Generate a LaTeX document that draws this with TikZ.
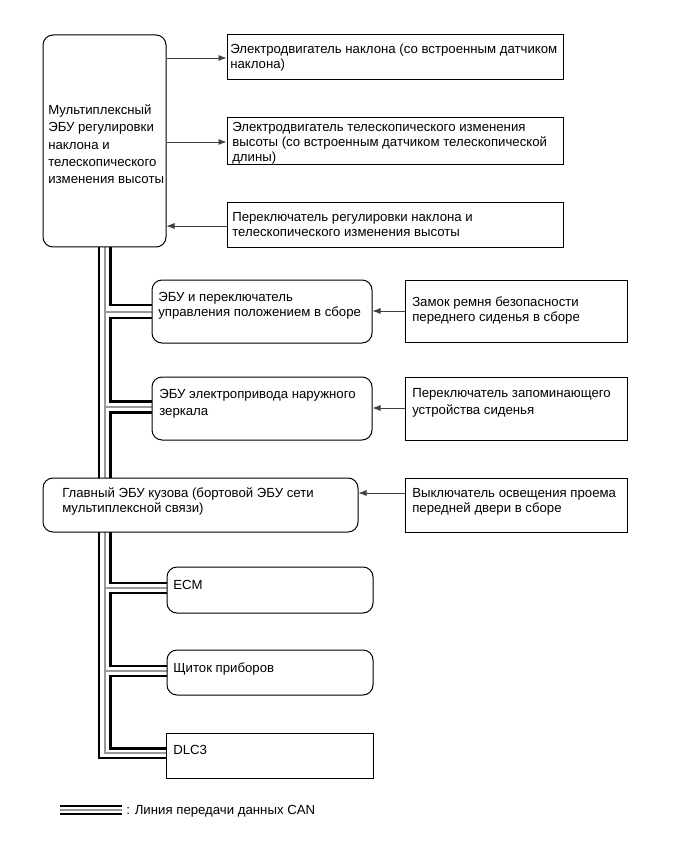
\documentclass[tikz,border=0pt]{standalone}
\usepackage{fontspec}
\setmainfont{Liberation Sans}
\usetikzlibrary{fit,arrows.meta}
\pgfdeclarelayer{background}
\pgfsetlayers{background,main}
\begin{document}
\begin{tikzpicture}[x=0.75pt,y=-0.75pt,
  rbox/.style={draw, fill=white, rounded corners=7.5, line width=0.75pt, inner sep=0pt},
  sbox/.style={draw, fill=white, line width=0.75pt, inner sep=0pt},
  txt/.style={anchor=base west, align=left, inner sep=0pt, font=\fontsize{9.9}{11.25}\selectfont},
  wtxt/.style={anchor=base west, align=left, inner sep=0pt, font=\fontsize{9.9}{12.4}\selectfont},
  bigtxt/.style={anchor=base west, align=left, inner sep=0pt, font=\fontsize{9.9}{13.1}\selectfont},
  arr/.style={-{Latex[length=6pt,width=4.5pt]}, line width=0.5pt, draw=black!75},
  busblk/.style={line width=1.9pt, black},
  busgry/.style={line width=1.5pt, black!40}
]
\useasboundingbox (0,0) rectangle (691,855);

% boxes
\node[rbox, fit={(43,35) (166,247)}] (ecu) {};
\node[sbox, fit={(227,35) (563,80)}] (mA) {};
\node[sbox, fit={(227,118) (563,165)}] (mB) {};
\node[sbox, fit={(227,203) (563,248)}] (sw) {};
\node[rbox, fit={(152,280) (372,343)}] (pos) {};
\node[rbox, fit={(152,377) (372,440)}] (mir) {};
\node[sbox, fit={(405,280) (627,342)}] (belt) {};
\node[sbox, fit={(405,377) (627,440)}] (mem) {};
\node[rbox, fit={(43,478) (358,532)}] (body) {};
\node[sbox, fit={(405,478) (627,532)}] (door) {};
\node[rbox, fit={(167,567) (373,613)}] (ecm) {};
\node[rbox, fit={(167,650) (373,695)}] (meter) {};
\node[sbox, fit={(166,733) (373,778)}] (dlc) {};

% texts (anchor = baseline of the last line)
\node[bigtxt] (t-ecu) at (48,184) {Мультиплексный\\ЭБУ регулировки\\наклона и\\телескопического\\изменения высоты};
\node[txt] (t-mA) at (230,69) {Электродвигатель наклона (со встроенным датчиком\\наклона)};
\node[txt] (t-mB) at (232,162) {Электродвигатель телескопического изменения\\высоты (со встроенным датчиком телескопической\\длины)};
\node[txt] (t-sw) at (232,237) {Переключатель регулировки наклона и\\телескопического изменения высоты};
\node[txt] (t-pos) at (158,316) {ЭБУ и переключатель\\управления положением в сборе};
\node[wtxt] (t-mir) at (159,415.5) {ЭБУ электропривода наружного\\зеркала};
\node[txt] (t-belt) at (412,321) {Замок ремня безопасности\\переднего сиденья в сборе};
\node[wtxt] (t-mem) at (412,414.5) {Переключатель запоминающего\\устройства сиденья};
\node[txt] (t-body) at (62,512) {Главный ЭБУ кузова (бортовой ЭБУ сети\\мультиплексной связи)};
\node[txt] (t-door) at (412,512) {Выключатель освещения проема\\передней двери в сборе};
\node[txt] (t-ecm) at (173,589) {ECM};
\node[txt] (t-meter) at (173,672) {Щиток приборов};
\node[txt] (t-dlc) at (173,754) {DLC3};
\node[txt] (t-leg) at (126,814) {: Линия передачи данных CAN};

% arrows
\draw[arr] (ecu.east |- 0,58) -- (mA.west |- 0,58);
\draw[arr] (ecu.east |- 0,142) -- (mB.west |- 0,142);
\draw[arr] (sw.west |- 0,226) -- (ecu.east |- 0,226);
\draw[arr] (belt.west |- 0,311) -- (pos.east |- 0,311);
\draw[arr] (mem.west |- 0,408) -- (mir.east |- 0,408);
\draw[arr] (door.west |- 0,493) -- (body.east |- 0,493);

% CAN bus
\begin{pgfonlayer}{background}
\draw[busblk] (ecu.south -| 99,0) -- (99,758) -- (dlc.west |- 0,758);
\draw[busgry] (ecu.south -| 104.5,0) -- (104.5,753) -- (dlc.west |- 0,753);
\draw[busgry] (104.5,311.5) -- (pos.west |- 0,311.5);
\draw[busgry] (104.5,406.5) -- (mir.west |- 0,406.5);
\draw[busgry] (104.5,588) -- (ecm.west |- 0,588);
\draw[busgry] (104.5,671) -- (meter.west |- 0,671);
\draw[busblk] (ecu.south -| 110.5,0) -- (110.5,305) -- (pos.west |- 0,305);
\draw[busblk] (pos.west |- 0,318) -- (110.5,318) -- (110.5,401.5) -- (mir.west |- 0,401.5);
\draw[busblk] (mir.west |- 0,412.5) -- (110.5,412.5) -- (110.5,583) -- (ecm.west |- 0,583);
\draw[busblk] (ecm.west |- 0,593) -- (110.5,593) -- (110.5,666) -- (meter.west |- 0,666);
\draw[busblk] (meter.west |- 0,676) -- (110.5,676) -- (110.5,748.5) -- (dlc.west |- 0,748.5);
\end{pgfonlayer}

% legend
\coordinate (l1) at (60,806);
\coordinate (l2) at (122,806);
\draw[busblk] (l1) -- (l2);
\draw[busgry] ([yshift=-3pt]l1) -- ([yshift=-3pt]l2);
\draw[busblk] ([yshift=-6pt]l1) -- ([yshift=-6pt]l2);
\end{tikzpicture}
\end{document}
